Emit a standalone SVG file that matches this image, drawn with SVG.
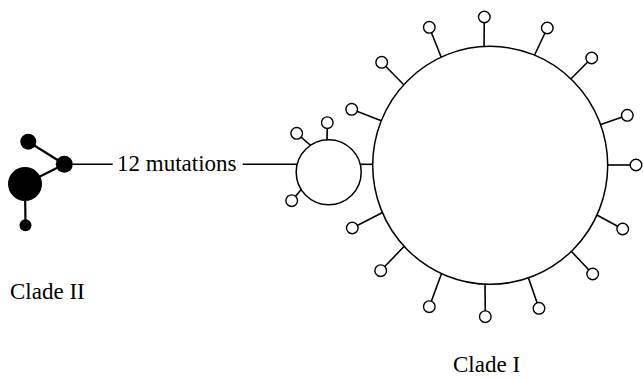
<svg xmlns="http://www.w3.org/2000/svg" width="643" height="378" viewBox="0 0 643 378">
<style>
.lbl{font-family:"Liberation Serif","Times New Roman",serif;font-size:23px;fill:#000}
.ln{stroke:#000;stroke-width:1.6;fill:none}
.bl{stroke:#000;stroke-width:2.2;fill:none}
.hap{fill:#fff;stroke:#000;stroke-width:1.5}
.sat{fill:#fff;stroke:#000;stroke-width:1.4}
.blk{fill:#000}
</style>
<rect width="643" height="378" fill="#fff"/>
<g id="connectors">
<line class="bl" x1="28.3" y1="141.7" x2="64.3" y2="164.3"/>
<line class="bl" x1="25" y1="184" x2="64.3" y2="164.3"/>
<line class="bl" x1="25" y1="184" x2="25.5" y2="225.3"/>
<line class="ln" x1="64.3" y1="164.3" x2="112.7" y2="164.3"/>
<line class="ln" x1="242.7" y1="164.3" x2="300" y2="164.3"/>
<line class="ln" x1="358" y1="164.3" x2="376" y2="164.3"/>
<line class="ln" x1="327.3" y1="122.7" x2="327" y2="143"/>
<line class="ln" x1="296.7" y1="133.3" x2="312.5" y2="147"/>
<line class="ln" x1="291.7" y1="200.7" x2="302.5" y2="188"/>
<line class="ln" x1="429.3" y1="27.3" x2="442.5" y2="60.5"/>
<line class="ln" x1="484.3" y1="17" x2="484" y2="51"/>
<line class="ln" x1="547.3" y1="28" x2="533.2" y2="58"/>
<line class="ln" x1="591.7" y1="58" x2="568.5" y2="81.2"/>
<line class="ln" x1="627.3" y1="115.3" x2="598" y2="125.4"/>
<line class="ln" x1="636" y1="165" x2="604" y2="165"/>
<line class="ln" x1="381.7" y1="62.3" x2="405.5" y2="86.5"/>
<line class="ln" x1="351.7" y1="109.3" x2="384.5" y2="122"/>
<line class="ln" x1="352.3" y1="228" x2="385" y2="211.3"/>
<line class="ln" x1="380.7" y1="270.7" x2="405.5" y2="245"/>
<line class="ln" x1="429.3" y1="306.7" x2="442.4" y2="271.2"/>
<line class="ln" x1="485.3" y1="316.7" x2="485" y2="280"/>
<line class="ln" x1="539" y1="308.3" x2="527.5" y2="275.2"/>
<line class="ln" x1="592.7" y1="274" x2="569.5" y2="249.4"/>
<line class="ln" x1="622.7" y1="229" x2="595" y2="214"/>
</g>
<g id="clade2-top"><circle class="blk" cx="28.3" cy="141.7" r="8"/></g>
<g id="clade2-mid"><circle class="blk" cx="64.3" cy="164.3" r="8.5"/></g>
<g id="clade2-big"><circle class="blk" cx="25" cy="184" r="17"/></g>
<g id="clade2-bottom"><circle class="blk" cx="25.5" cy="225.3" r="6"/></g>
<g id="mutations-label"><text class="lbl" x="117" y="171">12 mutations</text></g>
<g id="small-hap"><circle class="hap" cx="328.7" cy="172.2" r="32.5"/></g>
<g id="big-hap"><ellipse class="hap" cx="490.2" cy="165.3" rx="117.5" ry="119"/></g>
<g id="small-sats">
<circle class="sat" cx="327.3" cy="122.7" r="5.8"/>
<circle class="sat" cx="296.7" cy="133.3" r="5.8"/>
<circle class="sat" cx="291.7" cy="200.7" r="5.8"/>
</g>
<g id="big-sats">
<circle class="sat" cx="429.3" cy="27.3" r="5.8"/>
<circle class="sat" cx="484.3" cy="17" r="5.8"/>
<circle class="sat" cx="547.3" cy="28" r="5.8"/>
<circle class="sat" cx="591.7" cy="58" r="5.8"/>
<circle class="sat" cx="627.3" cy="115.3" r="5.8"/>
<circle class="sat" cx="636" cy="165" r="5.8"/>
<circle class="sat" cx="381.7" cy="62.3" r="5.8"/>
<circle class="sat" cx="351.7" cy="109.3" r="5.8"/>
<circle class="sat" cx="352.3" cy="228" r="5.8"/>
<circle class="sat" cx="380.7" cy="270.7" r="5.8"/>
<circle class="sat" cx="429.3" cy="306.7" r="5.8"/>
<circle class="sat" cx="485.3" cy="316.7" r="5.8"/>
<circle class="sat" cx="539" cy="308.3" r="5.8"/>
<circle class="sat" cx="592.7" cy="274" r="5.8"/>
<circle class="sat" cx="622.7" cy="229" r="5.8"/>
</g>
<g id="clade2-label"><text class="lbl" x="10" y="299">Clade II</text></g>
<g id="clade1-label"><text class="lbl" x="453" y="372">Clade I</text></g>
</svg>
